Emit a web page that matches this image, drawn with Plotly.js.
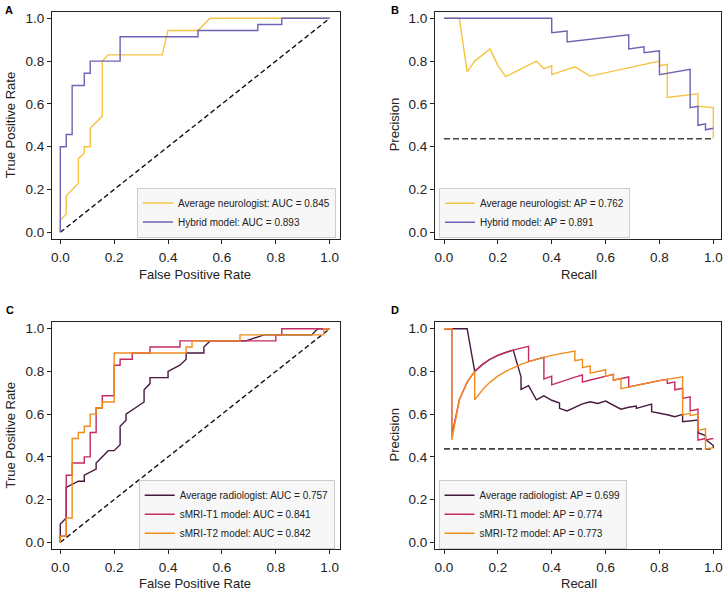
<!DOCTYPE html>
<html>
<head>
<meta charset="utf-8">
<script src="https://cdn.plot.ly/plotly-3.0.1.min.js"></script>
<style>html,body{margin:0;padding:0;background:#fff;}#chart{width:724px;height:590px;}</style>
</head>
<body>
<div id="chart"></div>
<script>
// ---------- DATA ----------
// Panel A: ROC
const rocNeuroFPR = [0, 0, 0.022, 0.022, 0.067, 0.067, 0.089, 0.089, 0.111, 0.111, 0.156, 0.156, 0.178, 0.378, 0.4, 0.511, 0.556, 1];
const rocNeuroTPR = [0, 0.057, 0.086, 0.171, 0.229, 0.343, 0.371, 0.4, 0.4, 0.486, 0.543, 0.8, 0.829, 0.829, 0.943, 0.943, 1, 1];
const rocHybridFPR = [0, 0, 0.022, 0.022, 0.044, 0.044, 0.089, 0.089, 0.111, 0.111, 0.222, 0.222, 0.511, 0.511, 0.733, 0.733, 0.822, 0.822, 1];
const rocHybridTPR = [0, 0.4, 0.4, 0.457, 0.457, 0.686, 0.686, 0.743, 0.743, 0.8, 0.8, 0.914, 0.914, 0.943, 0.943, 0.971, 0.971, 1, 1];

// Panel B: PR
const prNeuroRecall = [0, 0.057, 0.086, 0.114, 0.171, 0.2, 0.229, 0.343, 0.371, 0.4, 0.4, 0.486, 0.543, 0.8, 0.8, 0.829, 0.829, 0.943, 0.943, 1, 1];
const prNeuroPrecision = [1, 1, 0.75, 0.80, 0.857, 0.78, 0.727, 0.80, 0.765, 0.778, 0.737, 0.773, 0.73, 0.80, 0.778, 0.785, 0.63, 0.647, 0.589, 0.583, 0.44];
const prHybridRecall = [0, 0.4, 0.4, 0.457, 0.457, 0.686, 0.686, 0.743, 0.743, 0.8, 0.8, 0.914, 0.914, 0.943, 0.943, 0.971, 0.971, 1];
const prHybridPrecision = [1, 1, 0.933, 0.941, 0.889, 0.923, 0.857, 0.867, 0.839, 0.848, 0.737, 0.762, 0.582, 0.589, 0.50, 0.507, 0.479, 0.486];

// Panel C: ROC
const rocRadioFPR = [0, 0, 0.022, 0.022, 0.067, 0.089, 0.089, 0.133, 0.133, 0.178, 0.2, 0.222, 0.222, 0.244, 0.244, 0.311, 0.311, 0.333, 0.333, 0.4, 0.4, 0.444, 0.467, 0.467, 0.533, 0.533, 0.556, 0.689, 0.756, 0.933, 0.956, 1];
const rocRadioTPR = [0, 0.086, 0.114, 0.257, 0.286, 0.286, 0.314, 0.343, 0.371, 0.429, 0.429, 0.457, 0.543, 0.571, 0.6, 0.657, 0.714, 0.743, 0.771, 0.771, 0.8, 0.829, 0.857, 0.886, 0.886, 0.914, 0.943, 0.943, 0.971, 0.971, 1, 1];
const rocT1FPR = [0, 0, 0.022, 0.022, 0.044, 0.044, 0.089, 0.089, 0.111, 0.111, 0.133, 0.133, 0.156, 0.156, 0.2, 0.2, 0.222, 0.222, 0.267, 0.267, 0.333, 0.333, 0.444, 0.444, 0.8, 0.8, 0.822, 0.822, 1];
const rocT1TPR = [0, 0.029, 0.029, 0.314, 0.314, 0.371, 0.371, 0.4, 0.4, 0.514, 0.514, 0.629, 0.629, 0.686, 0.686, 0.829, 0.829, 0.857, 0.857, 0.886, 0.886, 0.914, 0.914, 0.943, 0.943, 0.971, 0.971, 1, 1];
const rocT2FPR = [0, 0, 0.022, 0.022, 0.044, 0.044, 0.067, 0.067, 0.089, 0.089, 0.111, 0.111, 0.133, 0.133, 0.156, 0.156, 0.2, 0.2, 0.467, 0.467, 0.489, 0.489, 0.667, 0.667, 0.978, 0.978, 1];
const rocT2TPR = [0, 0.029, 0.029, 0.114, 0.114, 0.486, 0.486, 0.514, 0.514, 0.543, 0.543, 0.6, 0.6, 0.629, 0.629, 0.657, 0.657, 0.886, 0.886, 0.914, 0.914, 0.943, 0.943, 0.971, 0.971, 1, 1];

// Panel D: PR
const prRadioRecall = [0, 0.086, 0.114, 0.143, 0.171, 0.2, 0.229, 0.257, 0.286, 0.286, 0.314, 0.343, 0.371, 0.4, 0.429, 0.429, 0.457, 0.486, 0.514, 0.543, 0.571, 0.6, 0.629, 0.657, 0.686, 0.714, 0.714, 0.743, 0.771, 0.771, 0.8, 0.829, 0.857, 0.886, 0.886, 0.914, 0.943, 0.943, 0.971, 0.971, 1, 1];
const prRadioPrecision = [1, 1, 0.8, 0.833, 0.857, 0.875, 0.889, 0.9, 0.775, 0.716, 0.733, 0.667, 0.686, 0.665, 0.652, 0.627, 0.615, 0.632, 0.648, 0.658, 0.65, 0.661, 0.64, 0.623, 0.632, 0.638, 0.627, 0.637, 0.647, 0.611, 0.605, 0.597, 0.588, 0.599, 0.565, 0.569, 0.572, 0.513, 0.50, 0.482, 0.453, 0.44];
const prT1Recall = [0, 0.029, 0.029, 0.057, 0.086, 0.114, 0.143, 0.171, 0.2, 0.229, 0.257, 0.286, 0.314, 0.314, 0.343, 0.371, 0.371, 0.4, 0.4, 0.429, 0.457, 0.486, 0.514, 0.514, 0.543, 0.571, 0.6, 0.629, 0.629, 0.657, 0.686, 0.686, 0.714, 0.743, 0.771, 0.8, 0.829, 0.829, 0.857, 0.857, 0.886, 0.886, 0.914, 0.914, 0.943, 0.943, 0.971, 0.971, 1];
const prT1Precision = [1, 1, 0.5, 0.667, 0.75, 0.8, 0.833, 0.857, 0.875, 0.889, 0.9, 0.909, 0.917, 0.846, 0.857, 0.867, 0.765, 0.778, 0.737, 0.75, 0.762, 0.773, 0.783, 0.75, 0.76, 0.769, 0.778, 0.786, 0.759, 0.767, 0.774, 0.727, 0.735, 0.743, 0.75, 0.757, 0.763, 0.744, 0.75, 0.714, 0.721, 0.674, 0.681, 0.615, 0.623, 0.478, 0.486, 0.479, 0.486];
const prT2Recall = [0, 0.029, 0.029, 0.057, 0.086, 0.114, 0.114, 0.143, 0.171, 0.2, 0.229, 0.257, 0.286, 0.314, 0.343, 0.371, 0.4, 0.429, 0.457, 0.486, 0.486, 0.514, 0.514, 0.543, 0.543, 0.571, 0.6, 0.6, 0.629, 0.629, 0.657, 0.657, 0.686, 0.714, 0.743, 0.771, 0.8, 0.829, 0.857, 0.886, 0.886, 0.914, 0.914, 0.943, 0.943, 0.971, 0.971, 1];
const prT2Precision = [1, 1, 0.48, 0.667, 0.75, 0.8, 0.667, 0.714, 0.75, 0.778, 0.8, 0.818, 0.833, 0.846, 0.857, 0.867, 0.875, 0.882, 0.889, 0.895, 0.85, 0.857, 0.818, 0.826, 0.792, 0.8, 0.808, 0.778, 0.786, 0.759, 0.767, 0.719, 0.727, 0.735, 0.743, 0.75, 0.757, 0.763, 0.769, 0.775, 0.596, 0.604, 0.593, 0.6, 0.524, 0.531, 0.436, 0.443];

const chanceX = [0, 1];
const chanceROC = [0, 1];
const baselinePR = [0.4375, 0.4375];

const namesAB = ["Average neurologist", "Hybrid model"];
const aucAB = ["0.845", "0.893"];
const apAB = ["0.762", "0.891"];
const namesCD = ["Average radiologist", "sMRI-T1 model", "sMRI-T2 model"];
const aucCD = ["0.757", "0.841", "0.842"];
const apCD = ["0.699", "0.774", "0.773"];
const panelLetters = ["A", "B", "C", "D"];
const xTitles = ["False Positive Rate", "Recall", "False Positive Rate", "Recall"];
const yTitles = ["True Positive Rate", "Precision", "True Positive Rate", "Precision"];
const tickVals = [0, 0.2, 0.4, 0.6, 0.8, 1.0];

// ---------- STYLE ----------
const W = 724, H = 590;
const FONT = "Liberation Sans, Arial, Helvetica, sans-serif";
const cNeuro = "#f5c443", cHybrid = "#6b63b3";
const cRadio = "#46193f", cT1 = "#c42b60", cT2 = "#f08c1d";
const LW = 1.4;

// panel geometry in pixels: data 0/1 positions and plot-box edges
const geo = [
  {x0: 60.3, x1: 329.7, L: 52, R: 340, y0: 232.3, y1: 18.3, T: 12, B: 239},
  {x0: 444, x1: 713.3, L: 435, R: 721, y0: 232.3, y1: 18.3, T: 12, B: 239},
  {x0: 60.3, x1: 329.7, L: 52, R: 340, y0: 542.3, y1: 328.7, T: 322, B: 549},
  {x0: 444, x1: 713.3, L: 435, R: 721, y0: 542.3, y1: 328.7, T: 322, B: 549}
];

function xAxis(g, anchor) {
  return {
    domain: [g.L / W, g.R / W], anchor: anchor,
    range: [(g.L - g.x0) / (g.x1 - g.x0), (g.R - g.x0) / (g.x1 - g.x0)],
    showline: true, mirror: true, linecolor: "#222", linewidth: 1,
    ticks: "outside", ticklen: 4, tickwidth: 1, tickcolor: "#222",
    tickvals: tickVals, tickformat: ".1f", ticklabelstandoff: 2,
    showgrid: false, zeroline: false, fixedrange: true,
    tickfont: {family: FONT, size: 13.5, color: "#222"}
  };
}
function yAxis(g, anchor) {
  return {
    domain: [1 - g.B / H, 1 - g.T / H], anchor: anchor,
    range: [(g.y0 - g.B) / (g.y0 - g.y1), (g.y0 - g.T) / (g.y0 - g.y1)],
    showline: true, mirror: true, linecolor: "#222", linewidth: 1,
    ticks: "outside", ticklen: 4, tickwidth: 1, tickcolor: "#222",
    tickvals: tickVals, tickformat: ".1f",
    showgrid: false, zeroline: false, fixedrange: true,
    tickfont: {family: FONT, size: 13.5, color: "#222"}
  };
}

function line(x, y, color, name, xa, ya, lg, extra) {
  const t = {x: x, y: y, type: "scatter", mode: "lines", name: name,
    line: Object.assign({color: color, width: LW}, extra || {}),
    xaxis: xa, yaxis: ya, hoverinfo: "skip"};
  if (lg) { t.legend = lg; t.legendgroup = name; t.showlegend = true; } else { t.showlegend = false; }
  return t;
}

const dashK = {dash: "5px,3px", width: 1.4};
const dashG = {dash: "6px,3px", width: 1.6};

const data = [
  // A
  line(chanceX, chanceROC, "#111", "chanceA", "x", "y", null, dashK),
  line(rocNeuroFPR, rocNeuroTPR, cNeuro, namesAB[0] + ": AUC = " + aucAB[0], "x", "y", "legend"),
  line(rocHybridFPR, rocHybridTPR, cHybrid, namesAB[1] + ": AUC = " + aucAB[1], "x", "y", "legend"),
  // B
  line(chanceX, baselinePR, "#444", "baseB", "x2", "y2", null, dashG),
  line(prNeuroRecall, prNeuroPrecision, cNeuro, namesAB[0] + ": AP = " + apAB[0], "x2", "y2", "legend2"),
  line(prHybridRecall, prHybridPrecision, cHybrid, namesAB[1] + ": AP = " + apAB[1], "x2", "y2", "legend2"),
  // C
  line(chanceX, chanceROC, "#111", "chanceC", "x3", "y3", null, dashK),
  line(rocRadioFPR, rocRadioTPR, cRadio, namesCD[0] + ": AUC = " + aucCD[0], "x3", "y3", "legend3"),
  line(rocT1FPR, rocT1TPR, cT1, namesCD[1] + ": AUC = " + aucCD[1], "x3", "y3", "legend3"),
  line(rocT2FPR, rocT2TPR, cT2, namesCD[2] + ": AUC = " + aucCD[2], "x3", "y3", "legend3"),
  // D
  line(chanceX, baselinePR, "#444", "baseD", "x4", "y4", null, dashG),
  line(prRadioRecall, prRadioPrecision, cRadio, namesCD[0] + ": AP = " + apCD[0], "x4", "y4", "legend4"),
  line(prT1Recall, prT1Precision, cT1, namesCD[1] + ": AP = " + apCD[1], "x4", "y4", "legend4"),
  line(prT2Recall, prT2Precision, cT2, namesCD[2] + ": AP = " + apCD[2], "x4", "y4", "legend4")
];

function legendBox(cx, cy) {
  return {x: cx / W, y: 1 - cy / H, xanchor: "center", yanchor: "middle", xref: "paper", yref: "paper",
    bgcolor: "#f7f7f7", bordercolor: "#cccccc", borderwidth: 1,
    font: {family: FONT, size: 10, color: "#222"}, tracegroupgap: 0, itemclick: false};
}

const annotations = [];
panelLetters.forEach(function (t, i) {
  const px = [3, 389, 4, 389][i], py = [2, 2, 302, 302][i];
  annotations.push({text: "<b>" + t + "</b>", x: px / W, y: 1 - py / H, xref: "paper", yref: "paper",
    xanchor: "left", yanchor: "top", showarrow: false,
    font: {family: FONT, size: 11, color: "#000"}});
});
// axis titles placed at measured pixel positions
const xTitleY = [274, 274, 583, 583];
const yTitleX = [10, 394, 10, 394];
geo.forEach(function (g, i) {
  annotations.push({text: xTitles[i], x: ((g.x0 + g.x1) / 2) / W, y: 1 - xTitleY[i] / H,
    xref: "paper", yref: "paper", xanchor: "center", yanchor: "middle", showarrow: false,
    font: {family: FONT, size: 13, color: "#222"}});
  annotations.push({text: yTitles[i], x: yTitleX[i] / W, y: 1 - ((g.y0 + g.y1) / 2) / H,
    xref: "paper", yref: "paper", xanchor: "center", yanchor: "middle", showarrow: false,
    textangle: -90, font: {family: FONT, size: 13, color: "#222"}});
});

const layout = {
  width: W, height: H, margin: {l: 0, r: 0, t: 0, b: 0},
  paper_bgcolor: "#fff", plot_bgcolor: "#fff",
  font: {family: FONT, color: "#222"},
  xaxis: xAxis(geo[0], "y"),
  yaxis: yAxis(geo[0], "x"),
  xaxis2: xAxis(geo[1], "y2"),
  yaxis2: yAxis(geo[1], "x2"),
  xaxis3: xAxis(geo[2], "y3"),
  yaxis3: yAxis(geo[2], "x3"),
  xaxis4: xAxis(geo[3], "y4"),
  yaxis4: yAxis(geo[3], "x4"),
  legend: legendBox(236.5, 212.5),
  legend2: legendBox(534.5, 212.8),
  legend3: legendBox(236.7, 514.2),
  legend4: legendBox(532.5, 514.2),
  annotations: annotations,
  showlegend: true
};

Plotly.newPlot("chart", data, layout, {displayModeBar: false, staticPlot: true});
</script>
</body>
</html>
